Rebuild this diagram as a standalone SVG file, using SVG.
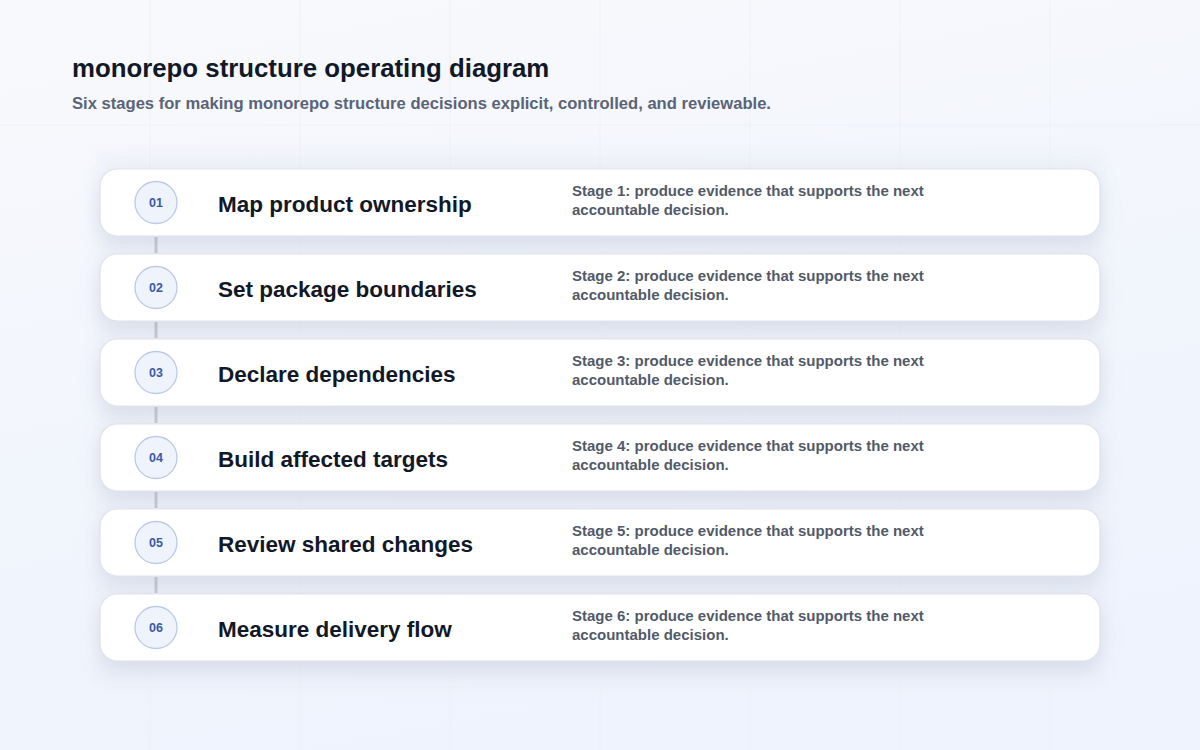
<svg xmlns="http://www.w3.org/2000/svg" width="1200" height="750" viewBox="0 0 1200 750">
<defs>
<linearGradient id="bg" x1="0" y1="0" x2="0.3" y2="1">
<stop offset="0" stop-color="#f8f9fc"/>
<stop offset="1" stop-color="#eef3fd"/>
</linearGradient>
<filter id="sh" x="-10%" y="-60%" width="120%" height="260%">
<feDropShadow dx="0" dy="8" stdDeviation="10" flood-color="#8a96b4" flood-opacity="0.22"/>
</filter>
<filter id="panelblur" x="-10%" y="-10%" width="120%" height="120%">
<feGaussianBlur stdDeviation="6"/>
</filter>
</defs>
<style>
.grid{stroke:#edf0f6;stroke-width:1;fill:none}
.card{fill:#ffffff;stroke:#dde2ec;stroke-width:1.2;filter:url(#sh)}
.badge{fill:#eef3fc;stroke:#b9c9e6;stroke-width:1.3}
.num{font-family:"Liberation Sans",Arial,sans-serif;font-size:12.5px;font-weight:700;fill:#3a5aa6;text-anchor:middle}
.ttl{font-family:"Liberation Sans",Arial,sans-serif;font-size:22.5px;font-weight:700;fill:#111827}
.desc{font-family:"Liberation Sans",Arial,sans-serif;font-size:15px;font-weight:700;fill:#525a69}
.conn{stroke:#c5c9d1;stroke-width:3}
</style>
<rect width="1200" height="750" fill="url(#bg)"/>
<g id="grid">
<path class="grid" d="M150 0V750M300 0V750M450 0V750M600 0V750M750 0V750M900 0V750M1050 0V750M0 125H1200"/>
</g>
<rect x="96" y="150" width="1008" height="538" fill="#e9edf6" opacity="0.45" filter="url(#panelblur)"/>
<g id="header">
<text x="72" y="77" font-family="Liberation Sans, Arial, sans-serif" font-size="25.8" font-weight="700" fill="#111827">monorepo structure operating diagram</text>
<text x="72" y="109" font-family="Liberation Sans, Arial, sans-serif" font-size="16.6" font-weight="700" fill="#5a6478">Six stages for making monorepo structure decisions explicit, controlled, and reviewable.</text>
</g>
<g id="connectors">
<line class="conn" x1="156" y1="237" x2="156" y2="253"/>
<line class="conn" x1="156" y1="322" x2="156" y2="338"/>
<line class="conn" x1="156" y1="407" x2="156" y2="423"/>
<line class="conn" x1="156" y1="492" x2="156" y2="508"/>
<line class="conn" x1="156" y1="577" x2="156" y2="593"/>
</g>
<g id="stage1">
<rect class="card" x="100" y="169" width="1000" height="67" rx="17"/>
<circle class="badge" cx="156" cy="202.5" r="21"/>
<text class="num" x="156" y="207">01</text>
<text class="ttl" x="218" y="212">Map product ownership</text>
<text class="desc" x="572" y="196">Stage 1: produce evidence that supports the next</text>
<text class="desc" x="572" y="215">accountable decision.</text>
</g>
<g id="stage2">
<rect class="card" x="100" y="254" width="1000" height="67" rx="17"/>
<circle class="badge" cx="156" cy="287.5" r="21"/>
<text class="num" x="156" y="292">02</text>
<text class="ttl" x="218" y="297">Set package boundaries</text>
<text class="desc" x="572" y="281">Stage 2: produce evidence that supports the next</text>
<text class="desc" x="572" y="300">accountable decision.</text>
</g>
<g id="stage3">
<rect class="card" x="100" y="339" width="1000" height="67" rx="17"/>
<circle class="badge" cx="156" cy="372.5" r="21"/>
<text class="num" x="156" y="377">03</text>
<text class="ttl" x="218" y="382">Declare dependencies</text>
<text class="desc" x="572" y="366">Stage 3: produce evidence that supports the next</text>
<text class="desc" x="572" y="385">accountable decision.</text>
</g>
<g id="stage4">
<rect class="card" x="100" y="424" width="1000" height="67" rx="17"/>
<circle class="badge" cx="156" cy="457.5" r="21"/>
<text class="num" x="156" y="462">04</text>
<text class="ttl" x="218" y="467">Build affected targets</text>
<text class="desc" x="572" y="451">Stage 4: produce evidence that supports the next</text>
<text class="desc" x="572" y="470">accountable decision.</text>
</g>
<g id="stage5">
<rect class="card" x="100" y="509" width="1000" height="67" rx="17"/>
<circle class="badge" cx="156" cy="542.5" r="21"/>
<text class="num" x="156" y="547">05</text>
<text class="ttl" x="218" y="552">Review shared changes</text>
<text class="desc" x="572" y="536">Stage 5: produce evidence that supports the next</text>
<text class="desc" x="572" y="555">accountable decision.</text>
</g>
<g id="stage6">
<rect class="card" x="100" y="594" width="1000" height="67" rx="17"/>
<circle class="badge" cx="156" cy="627.5" r="21"/>
<text class="num" x="156" y="632">06</text>
<text class="ttl" x="218" y="637">Measure delivery flow</text>
<text class="desc" x="572" y="621">Stage 6: produce evidence that supports the next</text>
<text class="desc" x="572" y="640">accountable decision.</text>
</g>
</svg>
